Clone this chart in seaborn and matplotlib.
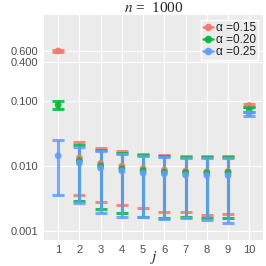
import numpy as np
import pandas as pd
import matplotlib
matplotlib.use("Agg")
import matplotlib.pyplot as plt
import seaborn as sns
from matplotlib.lines import Line2D

# values (log scale)
j = [1, 2, 3, 4, 5, 6, 7, 8, 9, 10]
alphas = ["0.15", "0.20", "0.25"]

mean_015 = [0.596, 0.0133, 0.0109, 0.0099, 0.0091, 0.0086, 0.0083, 0.0081, 0.0082, 0.0857]
low_015 = [0.580, 0.00348, 0.00277, 0.00249, 0.00224, 0.00193, 0.00193, 0.00171, 0.00182, 0.082]
high_015 = [0.612, 0.0232, 0.0191, 0.0170, 0.0154, 0.0149, 0.0143, 0.0142, 0.0143, 0.091]

mean_020 = [0.0867, 0.0120, 0.0100, 0.0090, 0.0084, 0.0080, 0.0079, 0.0078, 0.0079, 0.0743]
low_020 = [0.0743, 0.00284, 0.00218, 0.00184, 0.00162, 0.00158, 0.00160, 0.00154, 0.00154, 0.069]
high_020 = [0.101, 0.0210, 0.0178, 0.0158, 0.0147, 0.0143, 0.0138, 0.0137, 0.0138, 0.080]

mean_025 = [0.0143, 0.0110, 0.0092, 0.0083, 0.0077, 0.0075, 0.0072, 0.0071, 0.0071, 0.0644]
low_025 = [0.0036, 0.00264, 0.00189, 0.00162, 0.00160, 0.00150, 0.00154, 0.00143, 0.00130, 0.0585]
high_025 = [0.0255, 0.0196, 0.0167, 0.0151, 0.0140, 0.0137, 0.0132, 0.0130, 0.0132, 0.068]

colors = ["#F8766D", "#00BA38", "#619CFF"]

rows = []
for a, m, lo, hi in zip(alphas, [mean_015, mean_020, mean_025],
                        [low_015, low_020, low_025], [high_015, high_020, high_025]):
    for jj, mm, l, h in zip(j, m, lo, hi):
        rows.append({"j": jj, "alpha": a, "mean": mm, "low": l, "high": h})
df = pd.DataFrame(rows)

sns.set_theme(style="darkgrid", rc={
    "axes.facecolor": "#EBEBEB",
    "grid.color": "white",
    "grid.linewidth": 0.8,
    "axes.edgecolor": "#EBEBEB",
})
plt.rcParams["font.family"] = ["Liberation Sans", "DejaVu Sans"]
plt.rcParams["mathtext.fontset"] = "stix"

fig = plt.figure(figsize=(2.66, 2.66), dpi=100)
ax = fig.add_axes([0.166, 0.098, 0.823, 0.846])

for a, c in zip(alphas, colors):
    sub = df[df["alpha"] == a]
    ax.errorbar(sub["j"], sub["mean"],
                yerr=[sub["mean"] - sub["low"], sub["high"] - sub["mean"]],
                fmt="none", ecolor=c, elinewidth=2.2, capsize=4.3, capthick=2.2,
                alpha=0.85, zorder=3)
sns.scatterplot(data=df, x="j", y="mean", hue="alpha", palette=colors,
                s=24, edgecolor="none", alpha=0.9, legend=False, ax=ax, zorder=4)

ax.set_yscale("log")
ax.set_ylim(0.000715, 2.15)
ax.set_xlim(0.34, 10.65)
ax.set_yticks([0.001, 0.01, 0.1, 0.4, 0.6])
ax.set_yticklabels(["0.001", "0.010", "0.100", "0.400", "0.600"])
ax.minorticks_off()
ax.set_xticks(j)
ax.set_xticklabels([str(v) for v in j])
ax.tick_params(axis="both", labelsize=8, colors="#4D4D4D", length=2.5,
               width=0.6, pad=1.5, labelcolor="#4D4D4D")
ax.grid(True, which="major")
for s in ax.spines.values():
    s.set_visible(False)

ax.set_xlabel("$j$", fontsize=11)
ax.xaxis.set_label_coords(0.5, -0.04)
ax.set_ylabel("")
ax.set_title("$n$ =  1000", fontsize=11, family="Liberation Serif", pad=2)

handles = [Line2D([], [], color=c, marker="o", markersize=4.5, lw=1.8, alpha=0.9)
           for c in colors]
labels = ["\u03b1 =" + a for a in alphas]
leg = ax.legend(handles, labels, loc="upper right", fontsize=8.5,
                frameon=True, fancybox=False, framealpha=1, edgecolor="white",
                handlelength=0.8, handletextpad=0.25, borderpad=0.2,
                labelspacing=0.0, borderaxespad=0.4)
for t in leg.get_texts():
    t.set_color("#222222")

fig.savefig("out.png", dpi=100)
